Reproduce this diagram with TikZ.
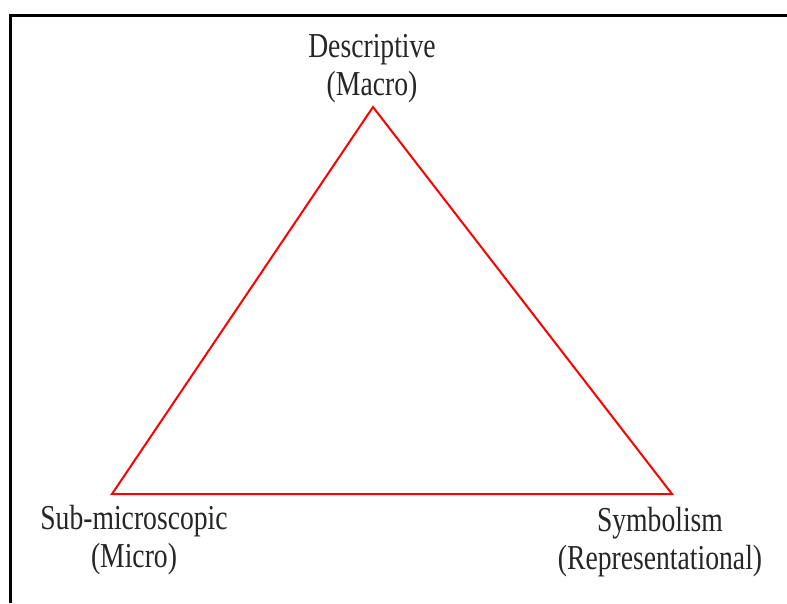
\documentclass[tikz,border=0pt]{standalone}
\usepackage{fontspec}
\setmainfont[FakeStretch=0.79]{Liberation Serif}
\begin{document}
\begin{tikzpicture}[x=1pt,y=-1pt,
  side/.style={draw=red, line width=2pt, line join=miter},
  frameline/.style={draw=black, line width=3pt},
  lbl/.style={align=center, inner sep=0pt, font=\fontsize{35}{38}\selectfont, text=black!85}]
\useasboundingbox (0,0) rectangle (787,603);
\coordinate (fa) at (10,603);
\coordinate (fb) at (10,15);
\coordinate (fc) at (787,15);
\draw[frameline] (fa) -- (fb) -- (fc);
\coordinate (top) at (373,107);
\coordinate (bl) at (112,494);
\coordinate (br) at (672,494);
\draw[side] (top) -- (bl) -- (br) -- cycle;
\node[lbl] (desc) at (372,69) {Descriptive\\(Macro)};
\node[lbl] (micro) at (134,540) {Sub-microscopic\\(Micro)};
\node[lbl] (sym) at (660,542) {Symbolism\\(Representational)};
\end{tikzpicture}
\end{document}
